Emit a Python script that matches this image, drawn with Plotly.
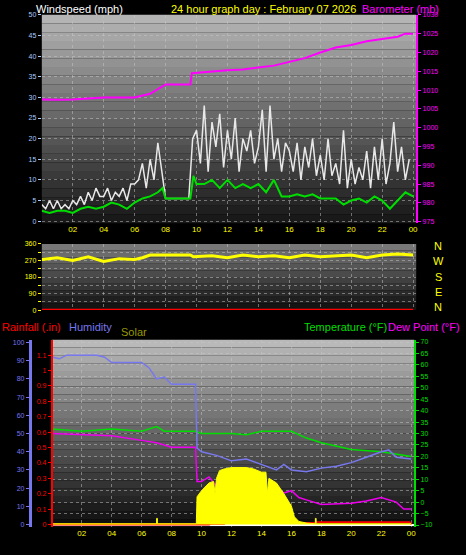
import plotly.graph_objects as go

# ---------------- data ----------------
baro_t = [0, 1, 2, 4, 6, 7, 8, 9.6, 9.7, 11, 12, 13, 14, 15, 16, 17, 18, 19, 20, 21, 22, 23, 23.5, 24]
baro_v = [1007.5, 1007.4, 1007.5, 1008, 1008, 1009, 1011.5, 1011.5, 1014.5, 1015, 1015.3, 1015.5, 1016, 1016.5, 1017.5, 1018.5, 1020, 1021.3, 1022, 1023, 1023.6, 1024.2, 1025, 1025]

avg_t = [0, 0.5, 1, 1.5, 2, 2.5, 3, 3.5, 4, 4.5, 5, 5.5, 6, 6.5, 7, 7.5, 7.8, 8, 9.6, 9.8, 10, 10.5, 11, 11.5, 12, 12.5, 13, 13.5, 14, 14.5, 15, 15.5, 16, 16.5, 17, 17.5, 18, 18.5, 19, 19.5, 20, 20.5, 21, 21.5, 22, 22.5, 23, 23.5, 24]
avg_v = [2.5, 2, 2.5, 2.5, 2, 3, 3.5, 3, 3.5, 4.5, 4, 3, 4.5, 5.5, 6, 7, 8, 5.5, 5.5, 11, 9, 9, 10, 8, 10, 8, 9, 8, 9, 7, 10, 6, 6, 6.5, 6, 6.5, 5.5, 5.5, 5.5, 4, 5, 5.5, 4.5, 6, 5, 3, 5, 7, 6]

gust_v = [4, 3, 5, 3, 5, 3, 4, 3,
          5, 4, 6, 4, 7, 5, 8, 6,
          6, 8, 5, 7, 6, 8, 5, 9,
          9, 10, 14, 8, 15, 10, 19, 12,
          5.5, 5.5, 5.5, 5.5, 5.5, 5.5, 5.5, 20,
          22, 14, 28, 12, 24, 18, 26, 13,
          22, 15, 25, 12, 20, 17, 22, 14,
          18, 27, 12, 28, 15, 20, 12, 19,
          17, 12, 19, 10, 18, 13, 20, 11,
          16, 10, 20, 11, 14, 9, 22, 8,
          15, 9, 13, 10, 17, 8, 18, 10,
          20, 9, 14, 24, 12, 18, 10, 15]
gust_t = [i * 0.25 for i in range(len(gust_v))]

dir_t = [0, 1, 2, 3, 4, 5, 6, 6.5, 7, 8, 9.6, 9.8, 11, 12, 13, 14, 15, 16, 17, 18, 19, 20, 21, 22, 23, 24]
dir_v = [275, 285, 270, 290, 265, 280, 275, 285, 300, 300, 300, 290, 295, 285, 300, 290, 295, 285, 300, 290, 295, 300, 285, 300, 305, 300]

hum_t = [0, 0.5, 1, 3, 3.5, 4, 6, 6.5, 7, 7.5, 8, 9.6, 9.7, 10, 11, 12, 13, 14, 15, 15.5, 16, 17, 18, 19, 20, 21, 22, 22.5, 23, 24]
hum_v = [92, 91, 93, 93, 92, 89, 89, 86, 80, 81, 77, 77, 42, 40, 38, 35, 36, 33, 30, 33, 30, 29, 31, 32, 34, 37, 40, 41, 37, 36]

temp_t = [0, 2, 4, 6, 7, 7.5, 9.6, 10, 12, 13, 14, 16, 17, 18, 20, 22, 24]
temp_v = [32, 31, 32, 31, 33, 31, 31, 30, 30, 29.5, 31, 31, 28, 26, 23, 22, 20]

dew_t = [0, 2, 4, 6, 7, 8, 9.6, 9.7, 10, 10.5, 11, 12, 13, 14, 15, 15.5, 16, 16.5, 17, 18, 20, 21, 22, 23, 23.5, 24]
dew_v = [30, 29.5, 29, 27, 26, 24, 24, 9, 9, 11, 7, 9, 7, 5, 6, 4, 5, 2, 1, -1, -0.5, 0.5, 2, 0, -3, -3]

solar_t = [0, 7, 7, 7.05, 7.05, 9.65, 9.7, 10, 10.5, 10.8, 10.9, 11, 11.2, 11.5, 12, 13, 13.5, 14, 14.3, 14.4, 14.5, 15, 15.5, 16, 16.2, 16.5, 17, 17.5, 17.6, 17.6, 17.65, 17.65, 24]
solar_v = [5, 5, 40, 40, 5, 5, 180, 220, 270, 280, 200, 300, 350, 360, 370, 370, 360, 340, 340, 200, 300, 270, 200, 120, 50, 20, 10, 5, 5, 40, 40, 5, 5]

rain_t = [0, 10.5, 10.6, 11.5, 11.6, 17.6, 17.7, 23.9, 24]
rain_v = [0, 0, 0.005, 0.005, 0.01, 0.01, 0.015, 0.015, 0]

hour_ticks = [2, 4, 6, 8, 10, 12, 14, 16, 18, 20, 22, 24]
hour_labels = ["02", "04", "06", "08", "10", "12", "14", "16", "18", "20", "22", "00"]

# ---------------- figure ----------------
fig = go.Figure()
X1 = [42/466, 418/466]
X3 = [52/466, 416/466]
Y1 = [1-222/555, 1-11/555]
Y2 = [1-310/555, 1-243/555]
Y3 = [1-530/555, 1-340/555]

fig.add_trace(go.Scatter(x=baro_t, y=baro_v, mode="lines", line=dict(color="#ff00ff", width=2), xaxis="x", yaxis="y2"))
fig.add_trace(go.Scatter(x=gust_t, y=gust_v, mode="lines", line=dict(color="#e8e8e8", width=1.5), xaxis="x", yaxis="y"))
fig.add_trace(go.Scatter(x=avg_t, y=avg_v, mode="lines", line=dict(color="#00dd00", width=2), xaxis="x", yaxis="y"))
fig.add_trace(go.Scatter(x=dir_t, y=dir_v, mode="lines", line=dict(color="#ffff00", width=3), xaxis="x2", yaxis="y3"))
fig.add_trace(go.Scatter(x=[0, 24], y=[2, 2], mode="lines", line=dict(color="#ff0000", width=2), xaxis="x2", yaxis="y3"))
fig.add_trace(go.Scatter(x=solar_t, y=solar_v, mode="lines", fill="tozeroy", fillcolor="#ffff00", line=dict(color="#ffff00", width=1), xaxis="x3", yaxis="y7"))
fig.add_trace(go.Scatter(x=hum_t, y=hum_v, mode="lines", line=dict(color="#7777ee", width=1.5), xaxis="x3", yaxis="y5"))
fig.add_trace(go.Scatter(x=temp_t, y=temp_v, mode="lines", line=dict(color="#00dd00", width=1.5), xaxis="x3", yaxis="y4"))
fig.add_trace(go.Scatter(x=dew_t, y=dew_v, mode="lines", line=dict(color="#ee00ee", width=1.5), xaxis="x3", yaxis="y4"))
fig.add_trace(go.Scatter(x=rain_t, y=rain_v, mode="lines", line=dict(color="#ff0000", width=2), xaxis="x3", yaxis="y6"))

# gradient backgrounds
def gradient(xd, yd, top, bottom, n=24):
    for i in range(n):
        f = i / (n - 1)
        c = int(top + (bottom - top) * f)
        y1 = yd[1] - (yd[1] - yd[0]) * i / n
        y0 = yd[1] - (yd[1] - yd[0]) * (i + 1) / n
        fig.add_shape(type="rect", xref="paper", yref="paper", x0=xd[0], x1=xd[1], y0=y0, y1=y1,
                      fillcolor=f"rgb({c},{c},{c})", line_width=0, layer="below")

gradient(X1, Y1, 180, 25)
gradient(X1, Y2, 120, 20, 10)
gradient(X3, Y3, 185, 15)

grid = dict(showgrid=True, gridcolor="rgba(200,200,200,0.5)", griddash="dot", zeroline=False)
xcommon = dict(range=[0, 24.2], tickvals=hour_ticks, ticktext=hour_labels, tickfont=dict(color="#ffff00", size=8), **grid)

fig.update_layout(
    width=466, height=555, margin=dict(l=0, r=0, t=0, b=0),
    paper_bgcolor="black", plot_bgcolor="rgba(0,0,0,0)", showlegend=False,
    xaxis=dict(domain=X1, anchor="y", **xcommon),
    xaxis2=dict(domain=X1, anchor="y3", showticklabels=False, **{k: v for k, v in xcommon.items() if k != "tickfont"}),
    xaxis3=dict(domain=X3, anchor="y4", **xcommon),
    yaxis=dict(domain=Y1, range=[-0.5, 50], dtick=5, tickfont=dict(color="#aaccff", size=7), ticks="outside", ticklen=3, tickcolor="#aaccff", **grid),
    yaxis2=dict(overlaying="y", side="right", anchor="x", range=[974.6, 1030], dtick=5, tickfont=dict(color="#ff00ff", size=7), showgrid=False, ticks="outside", ticklen=3, tickcolor="#ff00ff", showline=True, linecolor="#ff00ff", linewidth=2),
    yaxis3=dict(domain=Y2, anchor="x2", range=[0, 360], tickvals=[0, 45, 90, 135, 180, 225, 270, 315, 360], ticktext=["0", "", "90", "", "180", "", "270", "", "360"], tickfont=dict(color="#ffff00", size=7), ticks="outside", ticklen=3, tickcolor="#ffff00", **grid),
    yaxis4=dict(domain=Y3, anchor="x3", side="right", range=[-11, 71], dtick=5, tickfont=dict(color="#00dd00", size=7), ticks="outside", ticklen=3, tickcolor="#00dd00", showline=True, linecolor="#00dd00", linewidth=2, **grid),
    yaxis5=dict(overlaying="y4", anchor="free", position=30/466, side="left", range=[-1.5, 101.5], dtick=10, tickfont=dict(color="#7777ee", size=7), showgrid=False, ticks="outside", ticklen=3, tickcolor="#7777ee", showline=True, linecolor="#7777ee", linewidth=3),
    yaxis6=dict(overlaying="y4", anchor="free", position=52/466, side="left", range=[-0.018, 1.2], tickvals=[0, .1, .2, .3, .4, .5, .6, .7, .8, .9, 1, 1.1], ticktext=["0", "0.1", "0.2", "0.3", "0.4", "0.5", "0.6", "0.7", "0.8", "0.9", "1", "1.1"], tickfont=dict(color="#ff0000", size=7), showgrid=False, ticks="outside", ticklen=3, tickcolor="#ff0000", showline=True, linecolor="#ff0000", linewidth=2),
    yaxis7=dict(overlaying="y4", range=[-18, 1200], visible=False),
    font=dict(family="Arial"),
)

ann = [
    (34, 5, "Windspeed (mph)", "white", "left", 11),
    (265, 5, "24 hour graph day : February 07 2026", "#ffff00", "center", 11),
    (443, 5, "Barometer (mb)", "#ff00ff", "right", 11),
    (0, 327, "Rainfall (.in)", "#ff0000", "left", 11),
    (67, 327, "Humidity", "#7777ee", "left", 11),
    (120, 332, "Solar", "#999900", "left", 11),
    (391, 327, "Temperature (°F)", "#00dd00", "right", 11),
    (464, 327, "Dew Point (°F)", "#ff00ff", "right", 11),
]
for x, y, t, c, a, s in ann:
    fig.add_annotation(x=x/466, y=1-y/555, xref="paper", yref="paper", text=t, showarrow=False,
                       font=dict(color=c, size=s), xanchor=a, yanchor="middle")
for i, l in enumerate(["N", "W", "S", "E", "N"]):
    fig.add_annotation(x=440/466, y=(555-245-i*15.5)/555, xref="paper", yref="paper", text=l, showarrow=False,
                       font=dict(color="#ffff00", size=11), xanchor="center", yanchor="middle")

fig.write_html("out.html", config={"displayModeBar": False},
               post_script="document.body.style.margin='0';document.body.style.background='black';")
